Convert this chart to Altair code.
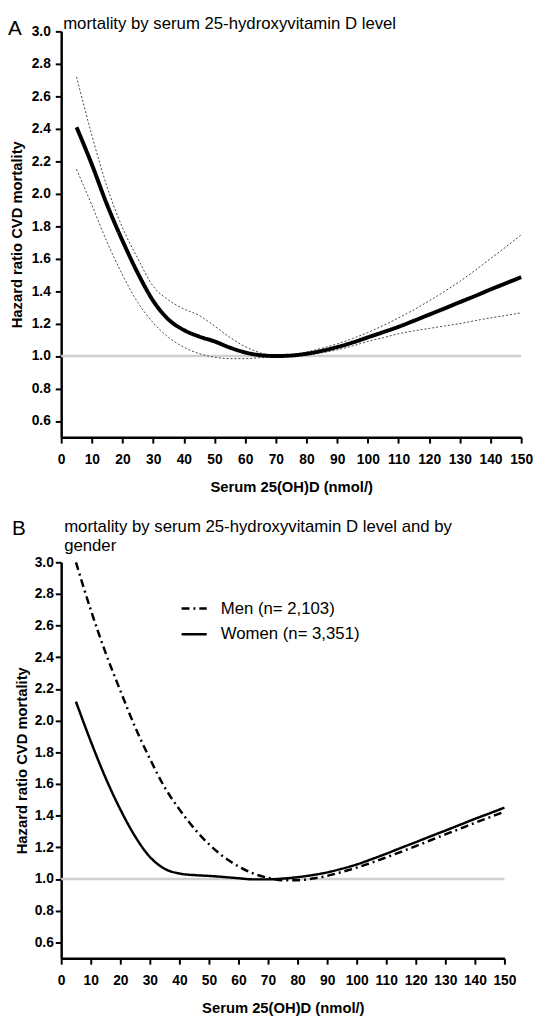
import altair as alt
import pandas as pd

# ---------------- data ----------------
X = [5, 10, 15, 20, 25, 30, 35, 40, 45, 50, 55, 60, 65, 70, 75,
     80, 85, 90, 95, 100, 105, 110, 115, 120, 125, 130, 135, 140, 145, 150]

A_HR = [2.41, 2.18, 1.93, 1.71, 1.51, 1.34, 1.225, 1.16, 1.12, 1.09,
        1.052, 1.022, 1.005, 1.0, 1.003, 1.014, 1.032, 1.055, 1.083, 1.115,
        1.147, 1.18, 1.217, 1.255, 1.293, 1.332, 1.37, 1.41, 1.448, 1.486]
A_UPPER = [2.72, 2.36, 2.04, 1.79, 1.60, 1.43, 1.345, 1.29, 1.25, 1.185,
           1.115, 1.058, 1.02, 1.002, 1.008, 1.025, 1.048, 1.075, 1.108, 1.145,
           1.188, 1.235, 1.285, 1.34, 1.398, 1.46, 1.528, 1.60, 1.672, 1.747]
A_LOWER = [2.15, 1.93, 1.70, 1.50, 1.33, 1.205, 1.115, 1.055, 1.015, 0.993,
           0.984, 0.984, 0.99, 0.997, 1.0, 1.006, 1.02, 1.038, 1.062, 1.09,
           1.113, 1.137, 1.155, 1.17, 1.185, 1.20, 1.218, 1.235, 1.25, 1.266]

B_MEN = [3.0, 2.70, 2.43, 2.19, 1.96, 1.76, 1.58, 1.44, 1.32, 1.22,
         1.14, 1.08, 1.035, 1.008, 0.993, 0.993, 1.003, 1.02, 1.045, 1.072,
         1.103, 1.137, 1.172, 1.208, 1.245, 1.282, 1.318, 1.355, 1.39, 1.425]
B_WOMEN = [2.12, 1.87, 1.64, 1.44, 1.27, 1.14, 1.065, 1.035, 1.025, 1.02,
           1.013, 1.005, 0.998, 0.998, 1.003, 1.012, 1.025, 1.042, 1.065, 1.092,
           1.125, 1.16, 1.197, 1.233, 1.27, 1.306, 1.343, 1.38, 1.415, 1.451]

MEN_LABEL = "Men (n= 2,103)"
WOMEN_LABEL = "Women (n= 3,351)"
TITLE_A = "mortality by serum 25-hydroxyvitamin D level"
TITLE_B = "mortality by serum 25-hydroxyvitamin D level and by\ngender"
LETTER_A = "A"
LETTER_B = "B"
X_TITLE = "Serum 25(OH)D (nmol/)"
Y_TITLE = "Hazard ratio CVD mortality"
X_TICKS = [0, 10, 20, 30, 40, 50, 60, 70, 80, 90, 100, 110, 120, 130, 140, 150]
Y_TICKS = [0.6, 0.8, 1.0, 1.2, 1.4, 1.6, 1.8, 2.0, 2.2, 2.4, 2.6, 2.8, 3.0]
X_RANGE = [0, 150]
REF_HR = [1.0]

FONT = "Liberation Sans"

main_df = pd.DataFrame({"x": X, "hr": A_HR, "band": "hr"})
ci_df = pd.concat([
    pd.DataFrame({"x": X, "hr": A_UPPER, "band": "upper"}),
    pd.DataFrame({"x": X, "hr": A_LOWER, "band": "lower"}),
])
gender_df = pd.concat([
    pd.DataFrame({"x": X, "hr": B_MEN, "sex": MEN_LABEL}),
    pd.DataFrame({"x": X, "hr": B_WOMEN, "sex": WOMEN_LABEL}),
])
ref_df = pd.DataFrame({"x": [X_RANGE[0]], "x2": [X_RANGE[1]], "hr": REF_HR})

X_SCALE = alt.Scale(domain=X_RANGE, nice=False, zero=False)
Y_SCALE = alt.Scale(domain=[0.5, 3.0], nice=False, zero=False)


def x_enc():
    return alt.X("x:Q", scale=X_SCALE,
                 axis=alt.Axis(values=X_TICKS, title=X_TITLE, labelOverlap=False,
                               labelFlush=False, labelBound=False,
                               labelPadding=10, titlePadding=13))


def y_enc(label_pad, title_pad):
    return alt.Y("hr:Q", scale=Y_SCALE,
                 axis=alt.Axis(values=Y_TICKS, format=".1f", title=Y_TITLE,
                               labelOverlap=False, labelFlush=False, labelBound=False,
                               labelPadding=label_pad, titlePadding=title_pad))


def text_layer(txt, x, y, size, **kw):
    return alt.Chart(pd.DataFrame({"t": [txt]})).mark_text(
        align="left", baseline="alphabetic", fontSize=size, font=FONT,
        color="black", **kw
    ).encode(text="t:N", x=alt.value(x), y=alt.value(y))


# ---------------- panel A ----------------
refA = alt.Chart(ref_df).mark_rule(color="#cfcfcf", strokeWidth=2.5).encode(
    x=x_enc(), x2="x2:Q", y=y_enc(5, 7))
linesA = alt.Chart(pd.concat([ci_df, main_df])).mark_line(
    color="black", interpolate="monotone").encode(
    x=x_enc(), y=y_enc(5, 7), detail="band:N",
    strokeWidth=alt.condition("datum.band == 'hr'", alt.value(4), alt.value(1)),
    strokeDash=alt.condition("datum.band == 'hr'", alt.value([1, 0]), alt.value([2, 2])),
    stroke=alt.condition("datum.band == 'hr'", alt.value("black"), alt.value("#444444")),
)
panelA = alt.layer(
    refA, linesA,
    text_layer(LETTER_A, -54, 4, 21),
    text_layer(TITLE_A, 2, -2, 17),
).properties(width=467, height=412)

# ---------------- panel B ----------------
refB = alt.Chart(ref_df).mark_rule(color="#cfcfcf", strokeWidth=2.5).encode(
    x=x_enc(), x2="x2:Q", y=y_enc(2, 5))
linesB = alt.Chart(gender_df).mark_line(color="black", strokeWidth=2.5,
                                        interpolate="monotone").encode(
    x=x_enc(), y=y_enc(2, 5),
    strokeDash=alt.StrokeDash(
        "sex:N",
        scale=alt.Scale(domain=[MEN_LABEL, WOMEN_LABEL], range=[[8, 4, 2, 4], [1, 0]]),
        legend=alt.Legend(orient="none", legendX=121, legendY=33, title=None,
                          symbolType="stroke", symbolSize=650, symbolStrokeWidth=2.5,
                          symbolStrokeColor="black", labelFontSize=17, labelFont=FONT,
                          labelColor="black", labelOffset=13, rowPadding=4)))
panelB = alt.layer(
    refB, linesB,
    text_layer(LETTER_B, -50, -28, 21),
    text_layer(TITLE_B, 3, -31, 17, lineBreak="\n", lineHeight=20),
).properties(width=450, height=402)

chart = alt.vconcat(panelA, panelB, spacing=24).resolve_scale(
    strokeDash="independent"
).resolve_legend(strokeDash="independent").properties(padding=0).configure_view(
    stroke=None
).configure_axis(
    domainColor="black", domainWidth=2.5, tickColor="black", tickWidth=2,
    tickSize=6, labelFont=FONT, labelFontSize=14, labelFontWeight="bold",
    labelColor="black", titleFont=FONT, titleFontSize=15, titleFontWeight="bold",
    titleColor="black", grid=False
)

chart.save("out.html", embed_options={"renderer": "svg", "actions": False})
